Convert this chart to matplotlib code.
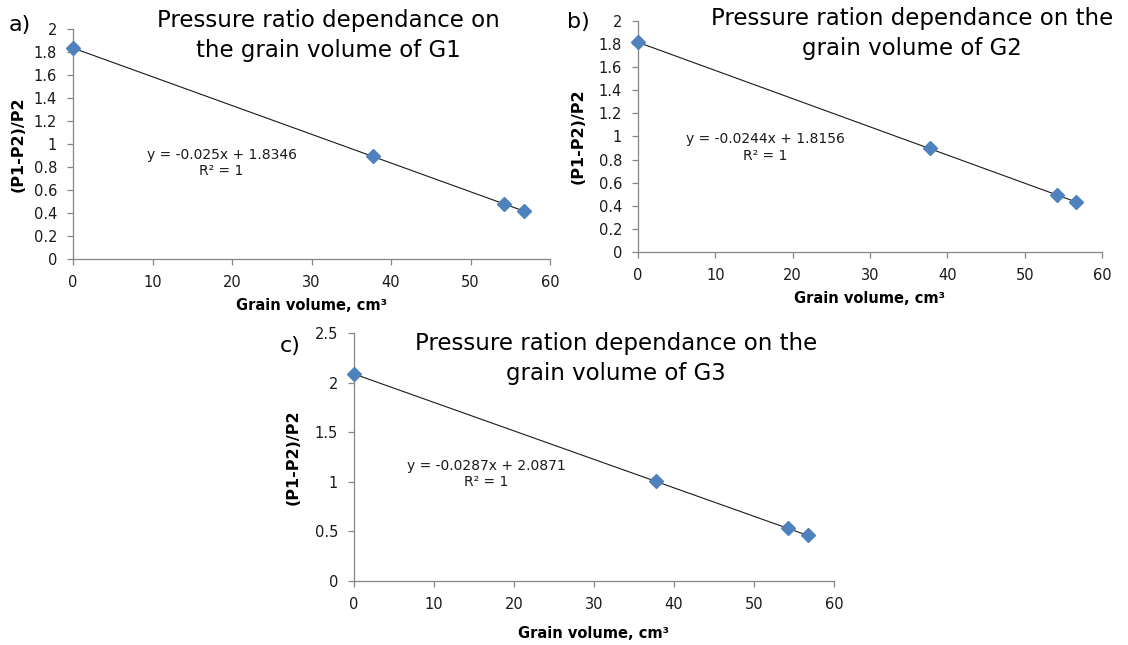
import numpy as np
import matplotlib.pyplot as plt
from matplotlib.ticker import MultipleLocator, FuncFormatter

# grain volume (cm3) and pressure ratio (P1-P2)/P2 for the three grain samples
volume = [0, 37.7, 54.2, 56.7]
ratio_g1 = [1.835, 0.892, 0.478, 0.415]
ratio_g2 = [1.816, 0.897, 0.493, 0.433]
ratio_g3 = [2.087, 1.005, 0.536, 0.462]

# linear trendlines (slope, intercept)
slopes = [-0.025, -0.0244, -0.0287]
intercepts = [1.8346, 1.8156, 2.0871]

titles = ["Pressure ratio dependance on\nthe grain volume of G1",
          "Pressure ration dependance on the\ngrain volume of G2",
          "Pressure ration dependance on the\ngrain volume of G3"]
letters = ["a)", "b)", "c)"]
y_max = [2, 2, 2.5]
y_step = [0.2, 0.2, 0.5]

W, H = 1128, 645
fig = plt.figure(figsize=(W / 100, H / 100), dpi=100)


def px_rect(x0, x1, y_top, y_bot):
    return [x0 / W, 1 - y_bot / H, (x1 - x0) / W, (y_bot - y_top) / H]


axes = [fig.add_axes(px_rect(73, 550, 29, 259)),
        fig.add_axes(px_rect(638, 1102, 21, 252)),
        fig.add_axes(px_rect(354, 834, 333, 581))]

# text placement in pixels: title centre and last-line baseline, letter left and baseline
title_pos = [(328, 57), (912, 55), (616, 380)]
letter_pos = [(9, 31), (567, 28), (280, 352)]
eq_pos = [(18.7, 0.835), (16.5, 0.905), (16.5, 1.079)]
ylabel_x = [-0.114, -0.128, -0.126]

grey = "#868686"
series = [ratio_g1, ratio_g2, ratio_g3]

for i, ax in enumerate(axes):
    x = np.array(volume)
    ax.plot(x, series[i], linestyle="none", marker="D", markersize=7,
            color="#4F81BD", zorder=3, clip_on=False)
    xs = np.array([x.min(), x.max()])
    ax.plot(xs, slopes[i] * xs + intercepts[i], color="#1a1a1a", lw=0.8, zorder=2)

    ax.set_xlim(0, 60)
    ax.set_ylim(0, y_max[i])
    ax.xaxis.set_major_locator(MultipleLocator(10))
    ax.yaxis.set_major_locator(MultipleLocator(y_step[i]))
    ax.yaxis.set_major_formatter(FuncFormatter(lambda v, p: f"{v:g}"))
    ax.xaxis.set_major_formatter(FuncFormatter(lambda v, p: f"{v:g}"))

    for s in ["top", "right"]:
        ax.spines[s].set_visible(False)
    for s in ["left", "bottom"]:
        ax.spines[s].set_color(grey)
        ax.spines[s].set_linewidth(0.9)
    ax.tick_params(axis="both", direction="out", length=4, width=0.9, color=grey,
                   labelsize=10.5, labelcolor="#1a1a1a")
    ax.tick_params(axis="x", pad=7.5)
    ax.tick_params(axis="y", pad=7.5)

    ax.set_xlabel("Grain volume, cm\u00b3", fontsize=10.5, fontweight="bold")
    ax.xaxis.set_label_coords(0.5, -0.2 if i < 2 else -0.21)
    ax.xaxis.label.set_va("center")
    ax.set_ylabel("(P1-P2)/P2", fontsize=11.5, fontweight="bold")
    ax.yaxis.set_label_coords(ylabel_x[i], 0.5)
    ax.yaxis.label.set_va("center")

    ax.text(eq_pos[i][0], eq_pos[i][1],
            f"y = {slopes[i]:g}x + {intercepts[i]:g}\nR\u00b2 = 1",
            ha="center", va="center", multialignment="center",
            fontsize=10, linespacing=1.25, color="#1a1a1a")

    tx, ty = title_pos[i]
    fig.text(tx / W, 1 - ty / H, titles[i], ha="center", va="baseline",
             multialignment="center", fontsize=16.5, linespacing=1.4)
    lx, ly = letter_pos[i]
    fig.text(lx / W, 1 - ly / H, letters[i], ha="left", va="baseline", fontsize=16)

fig.savefig("out.png", dpi=100)
